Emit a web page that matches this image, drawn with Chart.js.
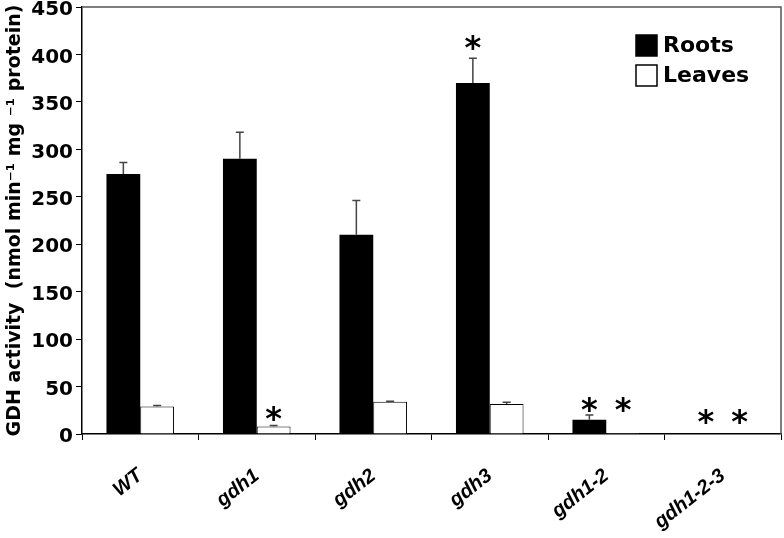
<!DOCTYPE html>
<html>
<head>
<meta charset="utf-8">
<script src="https://cdn.jsdelivr.net/npm/chart.js@4.4.0/dist/chart.umd.min.js"></script>
<style>
  html, body { margin: 0; padding: 0; background: #fff; }
  #wrap { width: 784px; height: 538px; }
</style>
</head>
<body>
<div id="wrap"><canvas id="chart" width="784" height="538"></canvas></div>
<script>
// DATA
const categories = ["WT", "gdh1", "gdh2", "gdh3", "gdh1-2", "gdh1-2-3"];
const roots = [274, 290, 210, 370, 15, 0.5];
const rootsErr = [12, 28, 36, 26, 5, 0];
const leaves = [29, 8, 34, 31.5, 1, 0.5];
const leavesErr = [1, 1, 0.5, 2, 0, 0];
// asterisk heights (value units), null = no mark
const rootsStar = [null, null, null, 414, 33, 20];
const leavesStar = [null, 23, null, null, 33, 20];
const yTicks = [0, 50, 100, 150, 200, 250, 300, 350, 400, 450];

const FONT = "'DejaVu Sans', Verdana, sans-serif";
const XFONT = "'Liberation Sans', Arial, sans-serif";

// ERROR BARS + ASTERISKS
const extrasPlugin = {
  id: "extras",
  afterDatasetsDraw(chart) {
    const ctx = chart.ctx;
    const y = chart.scales.y;
    const errs = [rootsErr, leavesErr];
    const stars = [rootsStar, leavesStar];
    chart.data.datasets.forEach((ds, di) => {
      const meta = chart.getDatasetMeta(di);
      meta.data.forEach((bar, i) => {
        const e = errs[di][i];
        if (e > 0) {
          const top = y.getPixelForValue(ds.data[i] + e);
          ctx.save();
          ctx.strokeStyle = "#444";
          ctx.lineWidth = 1.5;
          ctx.beginPath();
          ctx.moveTo(bar.x, bar.y);
          ctx.lineTo(bar.x, top);
          ctx.moveTo(bar.x - 4, top);
          ctx.lineTo(bar.x + 4, top);
          ctx.stroke();
          ctx.restore();
        }
        const s = stars[di][i];
        if (s !== null) {
          ctx.save();
          ctx.fillStyle = "#000";
          ctx.font = "bold 32px " + FONT;
          ctx.textAlign = "center";
          ctx.textBaseline = "alphabetic";
          ctx.fillText("*", bar.x, y.getPixelForValue(s) + 17);
          ctx.restore();
        }
      });
    });
  },
  afterDraw(chart) {
    const ctx = chart.ctx;
    const a = chart.chartArea;
    // top and right frame
    ctx.save();
    ctx.strokeStyle = "#555";
    ctx.lineWidth = 1.5;
    ctx.beginPath();
    ctx.moveTo(a.left, a.top);
    ctx.lineTo(a.right, a.top);
    ctx.lineTo(a.right, a.bottom);
    ctx.stroke();
    ctx.restore();
    // legend
    ctx.save();
    chart.data.datasets.forEach((ds, i) => {
      const x0 = a.right - 145;
      const y0 = a.top + 28 + i * 30;
      ctx.fillStyle = ds.backgroundColor;
      ctx.fillRect(x0, y0, 21, 21);
      ctx.strokeStyle = "#000";
      ctx.lineWidth = 1.5;
      ctx.strokeRect(x0, y0, 21, 21);
      ctx.fillStyle = "#000";
      ctx.font = "bold 22px " + FONT;
      ctx.textAlign = "left";
      ctx.textBaseline = "middle";
      ctx.fillText(ds.label, x0 + 27, y0 + 11);
    });
    ctx.restore();
  }
};

new Chart(document.getElementById("chart"), {
  type: "bar",
  data: {
    labels: categories,
    datasets: [
      {
        label: "Roots",
        data: roots,
        backgroundColor: "#000000",
        borderColor: "#000000",
        borderWidth: 0,
        barPercentage: 1,
        categoryPercentage: 0.58
      },
      {
        label: "Leaves",
        data: leaves,
        backgroundColor: "#ffffff",
        borderColor: "#000000",
        borderWidth: 1,
        barPercentage: 1,
        categoryPercentage: 0.58
      }
    ]
  },
  options: {
    responsive: false,
    animation: false,
    layout: { padding: { top: 7, right: 3, left: 0, bottom: 0 } },
    plugins: {
      legend: { display: false },
      tooltip: { enabled: false }
    },
    scales: {
      x: {
        grid: { offset: true, drawOnChartArea: false, tickLength: 6, color: "#000", lineWidth: 1 },
        border: { color: "#000", width: 1.5 },
        ticks: {
          color: "#000",
          font: { family: XFONT, size: 20, weight: "bold", style: "italic" },
          maxRotation: 38,
          minRotation: 38,
          padding: 24,
          autoSkip: false
        },
        afterFit(scale) { scale.height = 104; }
      },
      y: {
        min: 0,
        max: 450,
        afterBuildTicks(scale) { scale.ticks = yTicks.map(v => ({ value: v })); },
        grid: { drawOnChartArea: false, tickLength: 6, color: "#000", lineWidth: 1 },
        border: { color: "#000", width: 1.5 },
        ticks: {
          color: "#000",
          font: { family: FONT, size: 20, weight: "bold" },
          padding: 3,
          labelOffset: 3
        },
        title: {
          display: true,
          text: "GDH activity  (nmol min\u207B\u00B9 mg \u207B\u00B9 protein)",
          color: "#000",
          font: { family: FONT, size: 19, weight: "bold" },
          padding: { top: 4, bottom: 0 }
        },
        afterFit(scale) {
          scale.width = 82;
          scale.paddingTop = 0;
          scale.paddingBottom = 0;
        }
      }
    }
  },
  plugins: [extrasPlugin]
});
</script>
</body>
</html>
